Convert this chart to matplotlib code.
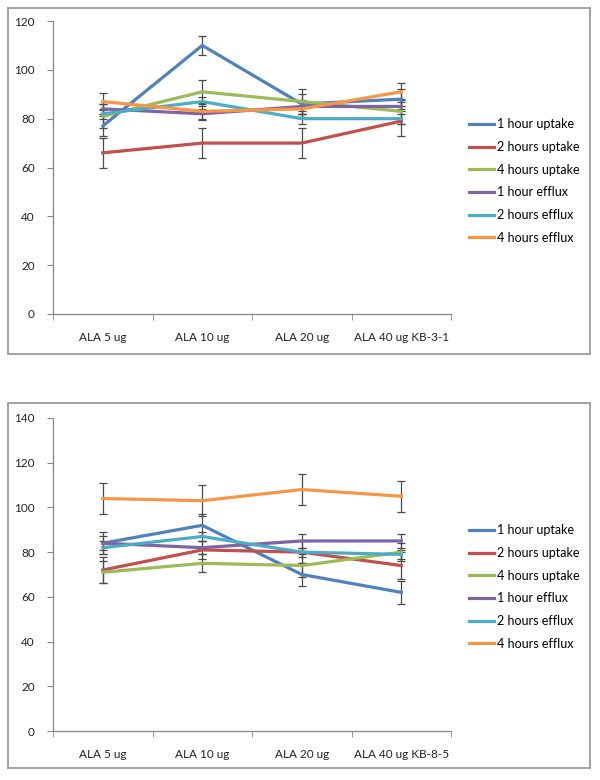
import matplotlib
matplotlib.use("Agg")
import matplotlib.pyplot as plt
from matplotlib.patches import Rectangle
from matplotlib.lines import Line2D
import numpy as np

plt.rcParams['font.family'] = ['Lato', 'DejaVu Sans']

series_names = ["1 hour uptake", "2 hours uptake", "4 hours uptake",
                "1 hour efflux", "2 hours efflux", "4 hours efflux"]
colors = ["#4F81BD", "#C0504D", "#9BBB59", "#8064A2", "#4BACC6", "#F79646"]

cats_top = ["ALA 5 ug", "ALA 10 ug", "ALA 20 ug", "ALA 40 ug KB-3-1"]
cats_bot = ["ALA 5 ug", "ALA 10 ug", "ALA 20 ug", "ALA 40 ug KB-8-5"]

# Top panel (KB-3-1)
top_1h_uptake = [77, 110, 86, 88]
top_2h_uptake = [66, 70, 70, 79]
top_4h_uptake = [81, 91, 87, 83]
top_1h_efflux = [84, 82, 85, 85]
top_2h_efflux = [82, 87, 80, 80]
top_4h_efflux = [87, 83, 84, 91]
top_err_1h_uptake = [4, 4, 4, 4]
top_err_2h_uptake = [6, 6, 6, 6]
top_err_4h_uptake = [5, 5, 5, 5]
top_err_1h_efflux = [2, 2, 2, 2]
top_err_2h_efflux = [2, 2, 2, 2]
top_err_4h_efflux = [3.5, 3.5, 3.5, 3.5]

# Bottom panel (KB-8-5)
bot_1h_uptake = [84, 92, 70, 62]
bot_2h_uptake = [72, 81, 80, 74]
bot_4h_uptake = [71, 75, 74, 80]
bot_1h_efflux = [84, 82, 85, 85]
bot_2h_efflux = [82, 87, 80, 79]
bot_4h_efflux = [104, 103, 108, 105]
bot_err_1h_uptake = [5, 5, 5, 5]
bot_err_2h_uptake = [6, 4, 5, 6]
bot_err_4h_uptake = [5, 4, 5, 4]
bot_err_1h_efflux = [3, 3, 3, 3]
bot_err_2h_efflux = [3, 2, 2, 2]
bot_err_4h_efflux = [7, 7, 7, 7]

top_vals = [top_1h_uptake, top_2h_uptake, top_4h_uptake,
            top_1h_efflux, top_2h_efflux, top_4h_efflux]
top_errs = [top_err_1h_uptake, top_err_2h_uptake, top_err_4h_uptake,
            top_err_1h_efflux, top_err_2h_efflux, top_err_4h_efflux]
bot_vals = [bot_1h_uptake, bot_2h_uptake, bot_4h_uptake,
            bot_1h_efflux, bot_2h_efflux, bot_4h_efflux]
bot_errs = [bot_err_1h_uptake, bot_err_2h_uptake, bot_err_4h_uptake,
            bot_err_1h_efflux, bot_err_2h_efflux, bot_err_4h_efflux]

W, H = 600, 780
fig = plt.figure(figsize=(6, 7.8), dpi=100)

def fx(px):
    return px / W

def fy(py):
    return 1 - py / H

# frames
for (x0, y0, x1, y1) in [(8, 8, 590, 354), (8, 403, 590, 768)]:
    fig.patches.append(Rectangle((fx(x0), fy(y1)), fx(x1) - fx(x0), fy(y0) - fy(y1),
                                 transform=fig.transFigure, fill=False,
                                 edgecolor="#9a9a9a", lw=1.3))

spine_c = "#868686"

def draw(ax, cats, vals, errs, ymax, legend_y):
    x = np.arange(len(cats))
    for v, e, c, n in zip(vals, errs, colors, series_names):
        ax.errorbar(x, v, yerr=e, color=c, lw=2.3, ecolor="#4a4a4a",
                    elinewidth=0.9, capsize=3, capthick=0.9, label=n, zorder=3)
    ax.set_xlim(-0.5, len(cats) - 0.5)
    ax.set_ylim(0, ymax)
    ax.set_yticks(np.arange(0, ymax + 1, 20))
    ax.set_xticks(x)
    ax.set_xticklabels(cats, fontsize=8.5, color="#222222")
    ax.set_xticks(np.arange(-0.5, len(cats), 1), minor=True)
    ax.tick_params(axis='x', which='major', length=0, pad=13)
    ax.tick_params(axis='x', which='minor', length=4, color=spine_c, direction='out')
    ax.tick_params(axis='y', length=4, color=spine_c, labelsize=8.5,
                   labelcolor="#222222", pad=9)
    for s in ['top', 'right']:
        ax.spines[s].set_visible(False)
    for s in ['left', 'bottom']:
        ax.spines[s].set_color(spine_c)
        ax.spines[s].set_linewidth(0.9)
    handles = [Line2D([0], [0], color=c, lw=2.3) for c in colors]
    fig.legend(handles, series_names, loc='center left',
               bbox_to_anchor=(fx(469), fy(legend_y)), frameon=False,
               fontsize=9, handlelength=2.0, handletextpad=0.25,
               labelspacing=0.85, borderpad=0, borderaxespad=0)

ax1 = fig.add_axes([fx(53), fy(314), fx(451) - fx(53), fy(21) - fy(314)])
draw(ax1, cats_top, top_vals, top_errs, 120, 181)

ax2 = fig.add_axes([fx(53), fy(731), fx(451) - fx(53), fy(418) - fy(731)])
draw(ax2, cats_bot, bot_vals, bot_errs, 140, 587)

fig.savefig("out.png", dpi=100)
